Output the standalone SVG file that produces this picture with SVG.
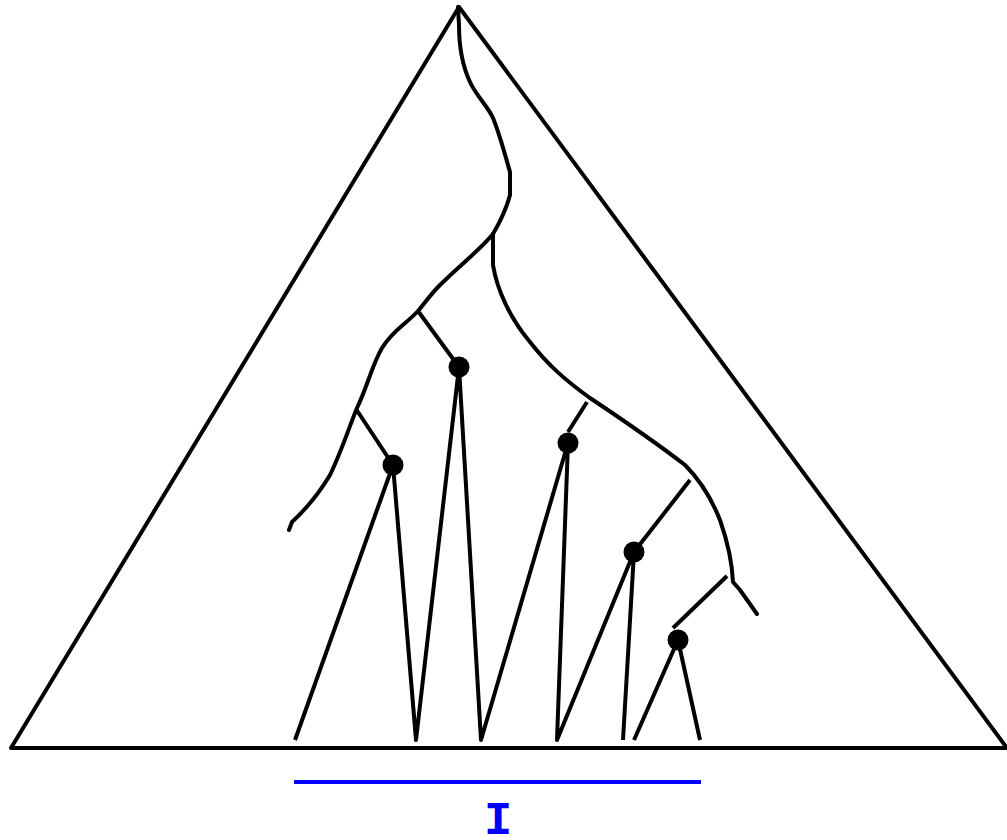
<svg xmlns="http://www.w3.org/2000/svg" width="1007" height="840" viewBox="0 0 1007 840">
<style>
.ln{fill:none;stroke:#000;stroke-width:4;stroke-linecap:butt;stroke-linejoin:round}
.wv{fill:none;stroke:#000;stroke-width:4;stroke-linejoin:round;stroke-linecap:round}
.dot{fill:#000}
.lbl{font-family:"Liberation Mono","DejaVu Sans Mono",monospace;font-weight:bold;font-size:47px;fill:#0000ff}
</style>
<rect width="1007" height="840" fill="#fff"/>
<g id="triangle">
<path class="ln" d="M11,748 L459,7 L1007,748 Z"/>
</g>
<g id="connectors">
<path class="wv" d="M458,7 L459,25 C459,45 462,65 470,82 C477,97 487,105 493,118 C500,135 505,155 510,172 L510,195 C506,210 500,222 493,234"/>
<path class="wv" d="M493,234 C480,250 460,265 440,285 C430,295 425,303 418,311 C405,325 393,330 382,348 C372,365 368,385 357,408 C348,430 342,450 330,475 C318,495 305,510 292,522 L289,530"/>
<path class="wv" d="M493,234 L493,265 C497,290 510,318 530,342 C548,365 565,380 590,398 C620,418 650,438 685,465 C700,480 712,500 720,520 C727,540 732,560 733,582 L740,590 L757,614"/>
<path class="ln" d="M418,311 L459,367"/>
<path class="ln" d="M356,409 L393,465"/>
<path class="ln" d="M587,402 L568,432"/>
<path class="ln" d="M690,480 L634,552"/>
<path class="ln" d="M727,576 L673,628"/>
<path class="ln" d="M295,740 L393,465 L416,740 L459,367 L481,740 L568,443 L557,740 L634,552 L623,740"/>
<path class="ln" d="M634,740 L678,640 L700,740"/>
</g>
<g id="nodes">
<circle class="dot" cx="459" cy="367" r="10.5"/>
<circle class="dot" cx="393" cy="465" r="10.5"/>
<circle class="dot" cx="568" cy="443" r="10.5"/>
<circle class="dot" cx="634" cy="552" r="10.5"/>
<circle class="dot" cx="678" cy="640" r="10.5"/>
</g>
<g id="interval">
<line x1="294" y1="782" x2="701" y2="782" stroke="#0000ff" stroke-width="4"/>
<text class="lbl" x="498" y="834" text-anchor="middle">I</text>
</g>
</svg>
